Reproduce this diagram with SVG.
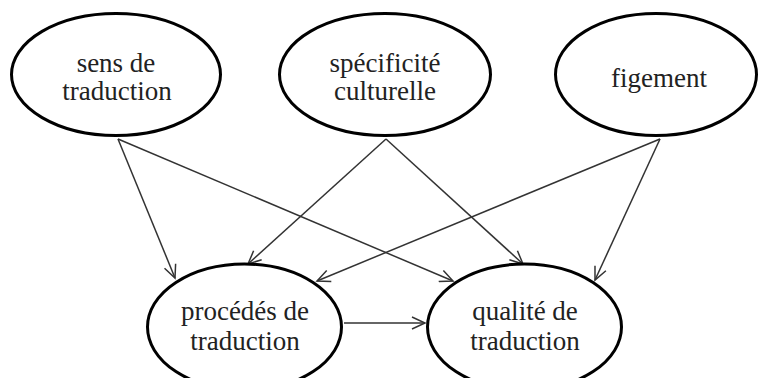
<svg xmlns="http://www.w3.org/2000/svg" width="758" height="378" viewBox="0 0 758 378">
<defs>
<style>
.node ellipse{fill:#fff;stroke:#000;stroke-width:3}
.node text{font-family:"Liberation Serif","Times New Roman",serif;font-size:27px;fill:#222;text-anchor:middle}
.edges line{stroke:#333;stroke-width:1.5;marker-end:url(#arr)}
</style>
<marker id="arr" markerUnits="userSpaceOnUse" markerWidth="16" markerHeight="14" refX="14" refY="7" orient="auto">
<path d="M1,1 L14,7 L1,13" fill="none" stroke="#333" stroke-width="1.5"/>
</marker>
</defs>
<rect width="758" height="378" fill="#fff"/>
<g class="edges" id="connectors">
<line x1="118" y1="139" x2="175" y2="278"/>
<line x1="118" y1="139" x2="453" y2="281"/>
<line x1="386" y1="139" x2="248" y2="264"/>
<line x1="386" y1="139" x2="523" y2="264"/>
<line x1="660" y1="139" x2="317" y2="281"/>
<line x1="660" y1="139" x2="595" y2="280"/>
<line x1="344" y1="323" x2="425" y2="323"/>
</g>
<g class="node" id="sens">
<ellipse cx="116" cy="74.5" rx="104.5" ry="61"/>
<text x="116" y="72">sens de</text>
<text x="117" y="100">traduction</text>
</g>
<g class="node" id="specificite">
<ellipse cx="385" cy="74.5" rx="105.5" ry="61"/>
<text x="385" y="72">spécificité</text>
<text x="385" y="100">culturelle</text>
</g>
<g class="node" id="figement">
<ellipse cx="656" cy="74.5" rx="100.5" ry="61"/>
<text x="659" y="87">figement</text>
</g>
<g class="node" id="procedes">
<ellipse cx="244.5" cy="327" rx="97" ry="63"/>
<text x="245" y="320">procédés de</text>
<text x="245" y="350">traduction</text>
</g>
<g class="node" id="qualite">
<ellipse cx="524.5" cy="327" rx="97" ry="63"/>
<text x="525" y="320">qualité de</text>
<text x="525" y="350">traduction</text>
</g>
</svg>
